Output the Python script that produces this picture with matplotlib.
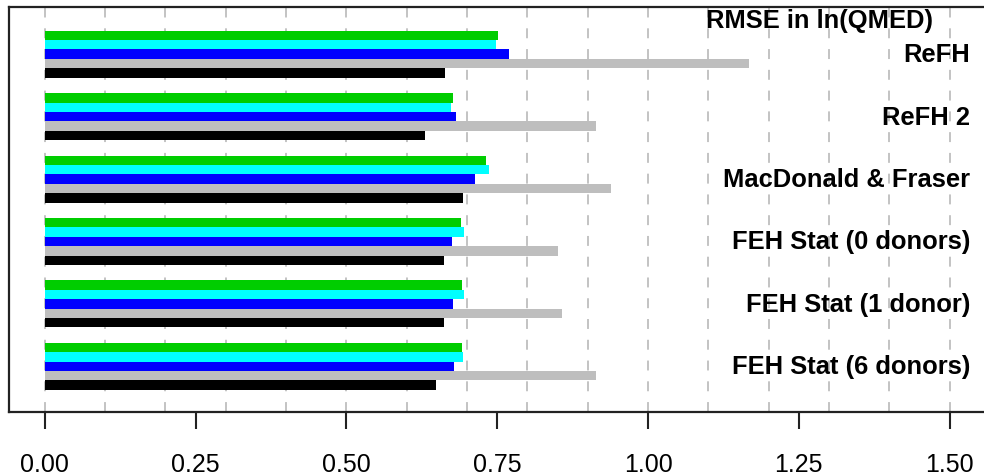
import matplotlib
matplotlib.use("Agg")
import matplotlib.pyplot as plt
import numpy as np

plt.rcParams['font.family'] = ['Liberation Sans', 'DejaVu Sans']

# methods, top to bottom
methods = ["ReFH", "ReFH 2", "MacDonald & Fraser",
           "FEH Stat (0 donors)", "FEH Stat (1 donor)", "FEH Stat (6 donors)"]

# RMSE per series (bar order inside each group: green, cyan, blue, gray, black)
green_vals = [0.752, 0.676, 0.732, 0.690, 0.691, 0.691]
cyan_vals  = [0.748, 0.674, 0.737, 0.695, 0.695, 0.694]
blue_vals  = [0.770, 0.682, 0.713, 0.675, 0.676, 0.679]
gray_vals  = [1.167, 0.914, 0.939, 0.850, 0.858, 0.914]
black_vals = [0.664, 0.630, 0.693, 0.662, 0.661, 0.649]

series = [green_vals, cyan_vals, blue_vals, gray_vals, black_vals]
colours = ["#00CD00", "#00FFFF", "#0000FF", "#BEBEBE", "#000000"]

xticks = [0.00, 0.25, 0.50, 0.75, 1.00, 1.25, 1.50]
title = "RMSE in ln(QMED)"

W, H = 984, 477
fig = plt.figure(figsize=(W / 100, H / 100), dpi=100)
ax = fig.add_axes([8.5 / W, (H - 413) / H, (985.9 - 8.5) / W, (413 - 8) / H])

gap = 6.64
for g in range(len(methods)):
    for i, vals in enumerate(series):
        ax.barh(g * gap + i + 0.5, vals[g], height=1.0, left=0,
                color=colours[i], edgecolor="none", zorder=3)

for gx in np.arange(0, 1.51, 0.1):
    ax.axvline(gx, color="#BEBEBE", lw=1.3, ls=(0, (5.5, 6)), zorder=1)

ax.set_xlim(-0.06, 1.56)
ax.set_ylim(40.56, -2.52)

ax.set_yticks([])
ax.set_xticks(xticks)
ax.set_xticklabels(["%.2f" % t for t in xticks], fontsize=18)
ax.tick_params(axis="x", length=12, width=1.5, pad=17, color="#222222")

for s in ["left", "top", "bottom", "right"]:
    ax.spines[s].set_linewidth(1.6)
    ax.spines[s].set_color("#222222")

for g, name in enumerate(methods):
    ax.text(1.534, g * gap + 2.5, name, ha="right", va="center",
            fontsize=18.4, fontweight="bold")

ax.text(1.2834, -1.14, title, ha="center", va="center",
        fontsize=18.4, fontweight="bold")

fig.savefig("out.png", dpi=100)
